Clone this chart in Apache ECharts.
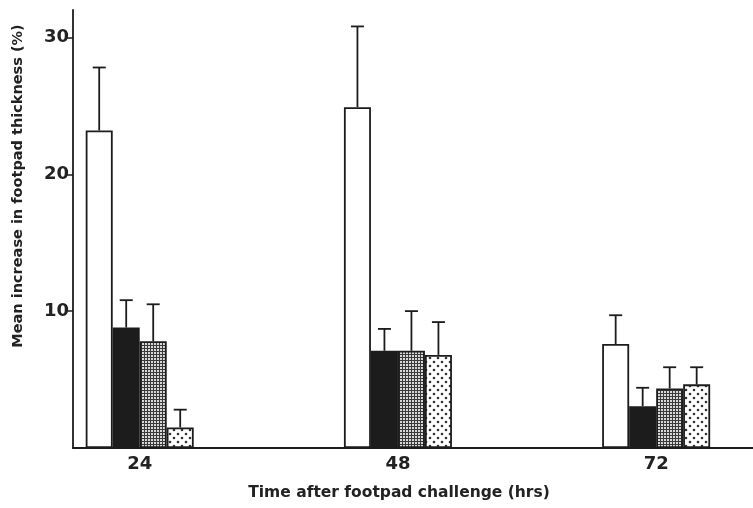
<!DOCTYPE html>
<html>
<head>
<meta charset="utf-8">
<script src="https://cdn.jsdelivr.net/npm/echarts@6/dist/echarts.min.js"></script>
<style>
  html, body { margin: 0; padding: 0; background: #fff; }
  #chart { width: 753px; height: 508px; }
</style>
</head>
<body>
<div id="chart"></div>
<script>
const hours = [24, 48, 72]
const yTicks = [10, 20, 30]
// four treatment groups, mean and mean + error
const groupA = [23.2, 24.9, 7.6]
const groupAErr = [27.8, 30.8, 9.7]
const groupB = [8.8, 7.1, 3.05]
const groupBErr = [10.8, 8.7, 4.4]
const groupC = [7.8, 7.1, 4.35]
const groupCErr = [10.5, 10.0, 5.9]
const groupD = [1.5, 6.8, 4.65]
const groupDErr = [2.8, 9.2, 5.9]

const INK = '#1c1c1c'
const BAR_W = 27
const FONT = 'DejaVu Sans'

function makePattern (kind) {
  const c = document.createElement('canvas')
  const ctx = c.getContext('2d')
  if (kind === 'grid') {
    c.width = 3; c.height = 3
    ctx.fillStyle = '#d8d8d8'
    ctx.fillRect(0, 0, 3, 3)
    ctx.fillStyle = '#3a3a3a'
    ctx.fillRect(0, 0, 3, 1)
    ctx.fillRect(0, 0, 1, 3)
  } else {
    c.width = 8; c.height = 8
    ctx.fillStyle = '#fff'
    ctx.fillRect(0, 0, 8, 8)
    ctx.fillStyle = '#333'
    ctx.beginPath(); ctx.arc(2, 2, 1.3, 0, Math.PI * 2); ctx.fill()
    ctx.beginPath(); ctx.arc(6, 6, 1.3, 0, Math.PI * 2); ctx.fill()
  }
  return { image: c, repeat: 'repeat' }
}

const fills = ['#ffffff', INK, makePattern('grid'), makePattern('dots')]
const means = [groupA, groupB, groupC, groupD]
const uppers = [groupAErr, groupBErr, groupCErr, groupDErr]

const barSeries = means.map((vals, i) => ({
  type: 'bar',
  data: vals.map((v, j) => [hours[j], v]),
  barWidth: BAR_W,
  barGap: '0%',
  itemStyle: { color: fills[i], borderColor: INK, borderWidth: 1.8 },
  silent: true
}))

const errData = []
means.forEach((vals, i) => {
  vals.forEach((v, j) => errData.push([hours[j], v, uppers[i][j], i]))
})

const errSeries = {
  type: 'custom',
  data: errData,
  z: 5,
  renderItem: (params, api) => {
    const base = api.coord([api.value(0), api.value(1)])
    const top = api.coord([api.value(0), api.value(2)])
    const x = base[0] + (api.value(3) - 1.5) * BAR_W
    const style = { stroke: INK, lineWidth: 1.8 }
    return {
      type: 'group',
      children: [
        { type: 'line', shape: { x1: x, y1: base[1], x2: x, y2: top[1] }, style },
        { type: 'line', shape: { x1: x - 6.5, y1: top[1], x2: x + 6.5, y2: top[1] }, style }
      ]
    }
  }
}

const chart = echarts.init(document.getElementById('chart'))
chart.setOption({
  backgroundColor: '#fff',
  animation: false,
  grid: { left: 73, right: 0, top: 10, bottom: 60 },
  xAxis: {
    type: 'value', min: 17.8, max: 81,
    axisLine: { show: true, lineStyle: { color: INK, width: 1.8 } },
    axisTick: { show: false },
    axisLabel: {
      customValues: hours,
      color: '#222', fontSize: 18, fontWeight: 'bold', fontFamily: FONT, margin: 7
    },
    splitLine: { show: false },
    name: 'Time after footpad challenge (hrs)',
    nameLocation: 'middle', nameGap: 37,
    nameTextStyle: { color: '#222', fontSize: 15.5, fontWeight: 'bold', fontFamily: FONT, padding: [0, 28, 0, 0] }
  },
  yAxis: {
    type: 'value', min: 0, max: 32, interval: 10,
    axisLine: { show: true, lineStyle: { color: INK, width: 1.8 } },
    axisTick: { show: true, inside: false, length: 6, customValues: yTicks, lineStyle: { color: INK, width: 1.5 } },
    axisLabel: {
      customValues: yTicks,
      color: '#222', fontSize: 18, fontWeight: 'bold', fontFamily: FONT, margin: 4
    },
    splitLine: { show: false },
    name: 'Mean increase in footpad thickness (%)',
    nameLocation: 'middle', nameGap: 47,
    nameTextStyle: { color: '#222', fontSize: 14.5, fontWeight: 'bold', fontFamily: FONT, padding: [0, 0, 0, 86] }
  },
  series: [...barSeries, errSeries]
})
</script>
</body>
</html>
